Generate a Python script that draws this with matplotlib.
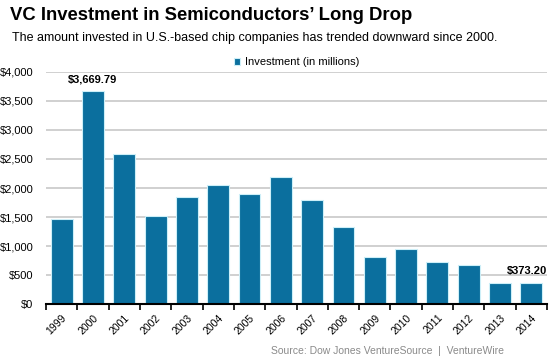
import matplotlib
matplotlib.use("Agg")
import matplotlib.pyplot as plt
import numpy as np

years = ["1999", "2000", "2001", "2002", "2003", "2004", "2005", "2006",
         "2007", "2008", "2009", "2010", "2011", "2012", "2013", "2014"]
investment = [1462, 3669.79, 2585, 1518, 1845, 2046, 1897, 2189,
              1794, 1335, 813, 957, 722, 676, 366, 373.20]
yticks = [0, 500, 1000, 1500, 2000, 2500, 3000, 3500, 4000]

plt.rcParams["font.family"] = ["Liberation Sans", "DejaVu Sans"]

fig = plt.figure(figsize=(5.6, 3.59), dpi=100)
ax = fig.add_axes([46 / 560, 1 - 304.3 / 359, (547 - 46) / 560, (304.3 - 71.7) / 359])

x = np.arange(len(years))
bar_color = "#0b6f9e"
ax.bar(x, investment, width=0.7, color=bar_color, edgecolor="#cdeff8",
       linewidth=0.8, label="Investment (in millions)", zorder=3)

ax.set_xlim(-0.5, len(years) - 0.5)
ax.set_ylim(0, 4000)
ax.set_yticks(yticks)
ax.set_yticklabels(["${:,}".format(v) for v in yticks], fontsize=8)
ax.yaxis.grid(True, color="#c8c8c8", linewidth=1.2, zorder=0)
ax.tick_params(axis="y", length=0, pad=9)

# ticks between bars, labels at bar centres
ax.set_xticks(np.arange(len(years) + 1) - 0.5)
ax.set_xticklabels([])
ax.set_xticks(x, minor=True)
ax.set_xticklabels(years, minor=True, rotation=45, ha="right",
                   rotation_mode="anchor", fontsize=7.5)
ax.tick_params(axis="x", which="major", length=4, width=1.2, color="black", direction="out")
ax.tick_params(axis="x", which="minor", length=0, pad=6)

for s in ["top", "right", "left"]:
    ax.spines[s].set_visible(False)
ax.spines["bottom"].set_linewidth(1.5)
ax.spines["bottom"].set_zorder(4)

ax.text(x[1], investment[1] + 110, "$3,669.79", ha="center", va="bottom",
        fontsize=8, fontweight="bold")
ax.text(x[-1] + 0.5, investment[-1] + 110, "$373.20", ha="right", va="bottom",
        fontsize=8, fontweight="bold")

leg = ax.legend(loc="lower center", bbox_to_anchor=(0.5, 1.0), frameon=False,
                fontsize=8, handlelength=0.6, handleheight=0.6, handletextpad=0.4,
                borderaxespad=0)

fig.text(10 / 560, 1 - 16 / 359, "VC Investment in Semiconductors\u2019 Long Drop",
         fontsize=13.3, fontweight="bold", ha="left", va="center")
fig.text(12 / 560, 1 - 38 / 359,
         "The amount invested in U.S.-based chip companies has trended downward since 2000.",
         fontsize=9, ha="left", va="center")
fig.text(504 / 560, 1 - 351 / 359, "Source: Dow Jones VentureSource  |  VentureWire",
         fontsize=7.5, color="#8a8a8a", ha="right", va="center")

fig.savefig("out.png", dpi=100)
